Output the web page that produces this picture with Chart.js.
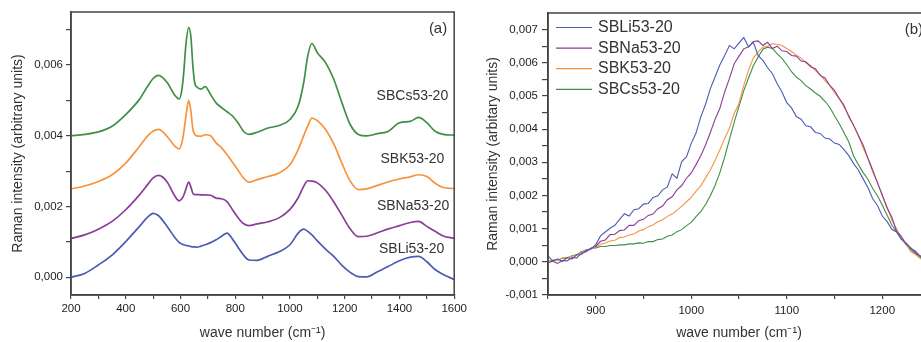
<!DOCTYPE html>
<html>
<head>
<meta charset="utf-8">
<title>Raman spectra</title>
<script src="https://cdn.jsdelivr.net/npm/chart.js@4.4.1/dist/chart.umd.min.js"></script>
<style>
  html, body { margin: 0; padding: 0; background: #fff; overflow: hidden; }
  #wrap { position: relative; width: 921px; height: 342px; overflow: hidden; }
  #chartA { position: absolute; left: 0; top: 0; }
  #chartB { position: absolute; left: 470px; top: 0; }
</style>
</head>
<body>
<div id="wrap">
  <canvas id="chartA" width="470" height="342"></canvas>
  <canvas id="chartB" width="470" height="342"></canvas>
</div>
<script>
// series names (same order in both panels)
const seriesNames = ['SBLi53-20', 'SBNa53-20', 'SBK53-20', 'SBCs53-20'];

// ---- panel (a): stacked full spectra ----
const waveA = [200, 250, 300, 350, 400, 450, 480, 500, 520, 550, 580, 595, 605, 612, 620, 630, 638, 645, 652, 660,
  675, 690, 710, 730, 750, 770, 790, 810, 830, 850, 880, 920, 960, 1000, 1030, 1050, 1065, 1080, 1100, 1130,
  1160, 1190, 1220, 1250, 1280, 1320, 1360, 1400, 1440, 1470, 1500, 1530, 1560, 1600];
const liA = [0.00000, 0.00011, 0.00035, 0.00063, 0.00101, 0.00144, 0.00170, 0.00181, 0.00174, 0.00145, 0.00112, 0.00099, 0.00094, 0.00092, 0.00090, 0.00089, 0.00087, 0.00086, 0.00086, 0.00085,
  0.00088, 0.00092, 0.00098, 0.00106, 0.00116, 0.00125, 0.00108, 0.00085, 0.00063, 0.00049, 0.00048, 0.00060, 0.00072, 0.00092, 0.00125, 0.00136, 0.00130, 0.00120, 0.00103, 0.00080,
  0.00059, 0.00034, 0.00014, 0.00002, 0.00001, 0.00016, 0.00031, 0.00047, 0.00057, 0.00059, 0.00044, 0.00022, 0.00008, -0.00006];
const naA = [0.00110, 0.00120, 0.00136, 0.00158, 0.00191, 0.00233, 0.00262, 0.00281, 0.00288, 0.00271, 0.00229, 0.00216, 0.00222, 0.00232, 0.00250, 0.00269, 0.00255, 0.00238, 0.00234, 0.00234,
  0.00233, 0.00233, 0.00232, 0.00224, 0.00222, 0.00214, 0.00191, 0.00169, 0.00152, 0.00146, 0.00151, 0.00157, 0.00168, 0.00192, 0.00225, 0.00257, 0.00273, 0.00272, 0.00267, 0.00246,
  0.00213, 0.00175, 0.00137, 0.00115, 0.00116, 0.00126, 0.00137, 0.00146, 0.00155, 0.00158, 0.00144, 0.00130, 0.00117, 0.00110];
const kA = [0.00250, 0.00258, 0.00271, 0.00290, 0.00323, 0.00370, 0.00400, 0.00413, 0.00418, 0.00399, 0.00370, 0.00363, 0.00380, 0.00410, 0.00456, 0.00500, 0.00470, 0.00420, 0.00405, 0.00400,
  0.00399, 0.00403, 0.00400, 0.00380, 0.00366, 0.00347, 0.00325, 0.00303, 0.00281, 0.00269, 0.00276, 0.00285, 0.00295, 0.00318, 0.00361, 0.00400, 0.00428, 0.00450, 0.00443, 0.00418,
  0.00377, 0.00322, 0.00272, 0.00248, 0.00250, 0.00260, 0.00270, 0.00278, 0.00284, 0.00290, 0.00285, 0.00266, 0.00254, 0.00251];
const csA = [0.00400, 0.00404, 0.00411, 0.00427, 0.00460, 0.00503, 0.00540, 0.00562, 0.00571, 0.00552, 0.00514, 0.00504, 0.00530, 0.00580, 0.00660, 0.00706, 0.00680, 0.00600, 0.00550, 0.00538,
  0.00532, 0.00539, 0.00517, 0.00493, 0.00480, 0.00468, 0.00456, 0.00437, 0.00413, 0.00404, 0.00410, 0.00422, 0.00429, 0.00446, 0.00484, 0.00550, 0.00626, 0.00661, 0.00635, 0.00607,
  0.00560, 0.00493, 0.00432, 0.00404, 0.00400, 0.00406, 0.00413, 0.00437, 0.00441, 0.00452, 0.00437, 0.00413, 0.00404, 0.00402];
const xTicksA = [200, 300, 400, 500, 600, 700, 800, 900, 1000, 1100, 1200, 1300, 1400, 1500, 1600];
const yTicksA = [0, 0.001, 0.002, 0.003, 0.004, 0.005, 0.006, 0.007];

// ---- panel (b): normalised Si-O band ----
const waveB = [850, 855, 860, 865, 870, 875, 880, 885, 890, 895,
  900, 905, 910, 915, 920, 925, 930, 935, 940, 945,
  950, 955, 960, 965, 970, 975, 980, 985, 990, 995,
  1000, 1005, 1010, 1015, 1020, 1025, 1030, 1035, 1040, 1045,
  1050, 1055, 1060, 1065, 1070, 1075, 1080, 1085, 1090, 1095,
  1100, 1105, 1110, 1115, 1120, 1125, 1130, 1135, 1140, 1145,
  1150, 1155, 1160, 1165, 1170, 1175, 1180, 1185, 1190, 1195,
  1200, 1205, 1210, 1215, 1220, 1225, 1230, 1235, 1240, 1245,
  1250];
const liB = [0.00018, 0.00002, 0.00009, 0.00001, 0.00013, 0.00008, 0.00021, 0.00022, 0.00036, 0.00038,
  0.00052, 0.00078, 0.00090, 0.00101, 0.00110, 0.00128, 0.00145, 0.00138, 0.00157, 0.00160,
  0.00174, 0.00176, 0.00194, 0.00199, 0.00217, 0.00226, 0.00265, 0.00252, 0.00302, 0.00316,
  0.00357, 0.00388, 0.00437, 0.00475, 0.00522, 0.00558, 0.00594, 0.00622, 0.00652, 0.00642,
  0.00660, 0.00676, 0.00648, 0.00662, 0.00622, 0.00607, 0.00585, 0.00567, 0.00537, 0.00512,
  0.00480, 0.00464, 0.00438, 0.00430, 0.00410, 0.00407, 0.00390, 0.00387, 0.00373, 0.00370,
  0.00358, 0.00354, 0.00338, 0.00320, 0.00296, 0.00277, 0.00250, 0.00224, 0.00190, 0.00170,
  0.00138, 0.00122, 0.00098, 0.00090, 0.00068, 0.00057, 0.00040, 0.00032, 0.00016, 0.00012,
  0.00005];
const naB = [-0.00003, 0.00002, -0.00005, 0.00004, 0.00003, 0.00013, 0.00012, 0.00026, 0.00030, 0.00041,
  0.00047, 0.00062, 0.00066, 0.00082, 0.00083, 0.00094, 0.00096, 0.00110, 0.00110, 0.00124,
  0.00128, 0.00140, 0.00144, 0.00160, 0.00168, 0.00187, 0.00196, 0.00217, 0.00230, 0.00252,
  0.00268, 0.00293, 0.00320, 0.00352, 0.00390, 0.00430, 0.00463, 0.00512, 0.00553, 0.00597,
  0.00620, 0.00642, 0.00648, 0.00664, 0.00666, 0.00652, 0.00662, 0.00643, 0.00650, 0.00636,
  0.00634, 0.00622, 0.00620, 0.00605, 0.00603, 0.00588, 0.00582, 0.00562, 0.00554, 0.00532,
  0.00517, 0.00492, 0.00472, 0.00437, 0.00412, 0.00380, 0.00352, 0.00312, 0.00277, 0.00238,
  0.00202, 0.00162, 0.00135, 0.00092, 0.00077, 0.00053, 0.00042, 0.00026, 0.00018, 0.00009,
  0.00006];
const kB = [0.00000, 0.00004, 0.00005, 0.00011, 0.00013, 0.00017, 0.00021, 0.00029, 0.00033, 0.00041,
  0.00044, 0.00053, 0.00057, 0.00063, 0.00065, 0.00073, 0.00075, 0.00081, 0.00084, 0.00093,
  0.00097, 0.00106, 0.00111, 0.00121, 0.00127, 0.00137, 0.00144, 0.00156, 0.00167, 0.00181,
  0.00194, 0.00213, 0.00229, 0.00253, 0.00277, 0.00306, 0.00338, 0.00372, 0.00403, 0.00447,
  0.00478, 0.00532, 0.00578, 0.00614, 0.00633, 0.00647, 0.00650, 0.00657, 0.00656, 0.00652,
  0.00643, 0.00634, 0.00623, 0.00614, 0.00600, 0.00592, 0.00576, 0.00564, 0.00546, 0.00532,
  0.00510, 0.00492, 0.00466, 0.00442, 0.00410, 0.00382, 0.00343, 0.00312, 0.00270, 0.00240,
  0.00198, 0.00167, 0.00126, 0.00100, 0.00070, 0.00052, 0.00030, 0.00022, 0.00009, 0.00006,
  0.00002];
const csB = [0.00000, 0.00005, 0.00005, 0.00011, 0.00011, 0.00018, 0.00021, 0.00031, 0.00034, 0.00041,
  0.00042, 0.00046, 0.00046, 0.00049, 0.00049, 0.00051, 0.00051, 0.00054, 0.00054, 0.00057,
  0.00056, 0.00061, 0.00061, 0.00067, 0.00069, 0.00077, 0.00081, 0.00091, 0.00097, 0.00109,
  0.00119, 0.00136, 0.00151, 0.00173, 0.00199, 0.00231, 0.00269, 0.00316, 0.00369, 0.00421,
  0.00469, 0.00516, 0.00554, 0.00591, 0.00617, 0.00641, 0.00647, 0.00643, 0.00627, 0.00613,
  0.00594, 0.00573, 0.00557, 0.00546, 0.00531, 0.00521, 0.00509, 0.00499, 0.00484, 0.00466,
  0.00440, 0.00416, 0.00389, 0.00361, 0.00319, 0.00293, 0.00269, 0.00249, 0.00221, 0.00199,
  0.00171, 0.00141, 0.00111, 0.00091, 0.00069, 0.00053, 0.00035, 0.00025, 0.00013, 0.00009,
  0.00004];
const xTicksB = [850, 900, 950, 1000, 1050, 1100, 1150, 1200, 1250];
const yTicksB = [-0.001, -0.0005, 0, 0.0005, 0.001, 0.0015, 0.002, 0.0025, 0.003, 0.0035,
  0.004, 0.0045, 0.005, 0.0055, 0.006, 0.0065, 0.007];

const lineColors = ['#4c5cb4', '#8a3d98', '#f7933c', '#3f8f46'];
const FONT = "'Liberation Sans', Arial, sans-serif";
Chart.defaults.font.family = FONT;
Chart.defaults.color = '#1e1e1e';

const toPoints = (xs, ys) => xs.map((x, i) => ({ x: x, y: ys[i] }));
const comma = v => (Math.abs(v) < 1e-9 ? 0 : v).toFixed(3).replace('.', ',');

// draws the closed box round the plot area
const frameBox = {
  id: 'frameBox',
  afterDraw(chart) {
    const { ctx, chartArea: a } = chart;
    ctx.save();
    ctx.strokeStyle = '#444';
    ctx.lineWidth = 1.5;
    ctx.strokeRect(a.left, a.top, a.right - a.left, a.bottom - a.top);
    ctx.restore();
  }
};

// names written beside each curve of panel (a)
const seriesTags = {
  id: 'seriesTags',
  afterDatasetsDraw(chart) {
    const { ctx, chartArea: a, scales: { x, y } } = chart;
    const spots = [[1564, 0.0008], [1582, 0.00202], [1564, 0.00333], [1578, 0.00511]];
    ctx.save();
    ctx.font = '14px ' + FONT;
    ctx.fillStyle = '#333';
    ctx.textAlign = 'right';
    ctx.textBaseline = 'middle';
    chart.data.datasets.forEach((ds, i) => {
      ctx.fillText(ds.label, x.getPixelForValue(spots[i][0]), y.getPixelForValue(spots[i][1]));
    });
    ctx.font = '15px ' + FONT;
    ctx.fillText('(a)', a.right - 7, a.top + 17);
    ctx.restore();
  }
};

// line legend in the top-left corner of panel (b)
const cornerLegend = {
  id: 'cornerLegend',
  afterDatasetsDraw(chart) {
    const { ctx, chartArea: a } = chart;
    ctx.save();
    ctx.font = '16px ' + FONT;
    ctx.textBaseline = 'middle';
    chart.data.datasets.forEach((ds, i) => {
      const yy = a.top + 14.5 + i * 20.6;
      ctx.strokeStyle = ds.borderColor;
      ctx.lineWidth = 1.2;
      ctx.beginPath();
      ctx.moveTo(a.left + 8, yy);
      ctx.lineTo(a.left + 44, yy);
      ctx.stroke();
      ctx.fillStyle = '#333';
      ctx.textAlign = 'left';
      ctx.fillText(ds.label, a.left + 50, yy);
    });
    ctx.font = '15px ' + FONT;
    ctx.textAlign = 'right';
    ctx.fillText('(b)', a.right - 7, a.top + 17);
    ctx.restore();
  }
};

function axisX(min, max, tickList, labelEvery, tickLen, pad) {
  return {
    type: 'linear', min: min, max: max,
    afterBuildTicks: axis => { axis.ticks = tickList.map(v => ({ value: v })); },
    afterFit: axis => { axis.height = 47; },
    ticks: {
      autoSkip: false, maxRotation: 0, minRotation: 0, padding: pad,
      font: { size: 11.5 },
      callback: v => (v % labelEvery === 0 ? String(v) : '')
    },
    grid: { drawOnChartArea: false, drawTicks: true, tickLength: tickLen, color: '#444', lineWidth: 1.2 },
    border: { color: '#444', width: 1.5 },
    title: { display: true, text: 'wave number (cm⁻¹)', font: { size: 14 }, color: '#333', padding: { top: 0, bottom: 0 } }
  };
}

function axisY(min, max, tickList, isMajor, width, tickLen, pad, titleText, titlePad) {
  return {
    type: 'linear', min: min, max: max,
    afterBuildTicks: axis => { axis.ticks = tickList.map(v => ({ value: v })); },
    afterFit: axis => { axis.width = width; },
    ticks: {
      autoSkip: false, padding: pad,
      font: { size: 11.5 },
      callback: v => (isMajor(v) ? comma(v) : '')
    },
    grid: { drawOnChartArea: false, drawTicks: true, tickLength: tickLen, color: '#444', lineWidth: 1.2 },
    border: { color: '#444', width: 1.5 },
    title: { display: true, text: titleText, font: { size: 14 }, color: '#333', padding: { top: titlePad, bottom: 0 } }
  };
}

function makeDatasets(xs, seriesList, width) {
  return seriesList.map((ys, i) => ({
    label: seriesNames[i],
    data: toPoints(xs, ys),
    borderColor: lineColors[i],
    borderWidth: width,
    pointRadius: 0,
    fill: false
  }));
}

const baseOptions = {
  responsive: false,
  animation: false,
  events: [],
  parsing: false,
  plugins: { legend: { display: false }, tooltip: { enabled: false } }
};

new Chart(document.getElementById('chartA'), {
  type: 'line',
  data: { datasets: makeDatasets(waveA, [liA, naA, kA, csA], 1.7) },
  options: Object.assign({}, baseOptions, {
    layout: { padding: { top: 12, right: 12, left: 0, bottom: 0 } },
    elements: { line: { cubicInterpolationMode: 'monotone' } },
    scales: {
      x: axisX(200, 1600, xTicksA, 200, 4, 3),
      y: axisY(-0.0005, 0.0075, yTicksA, v => Math.round(v * 1000) % 2 === 0, 71, 5, 3,
        'Raman intensity (arbitrary units)', 10)
    }
  }),
  plugins: [frameBox, seriesTags]
});

new Chart(document.getElementById('chartB'), {
  type: 'line',
  data: { datasets: makeDatasets(waveB, [liB, naB, kB, csB], 1.1) },
  options: Object.assign({}, baseOptions, {
    layout: { padding: { top: 13, right: 10, left: 0, bottom: 0 } },
    elements: { line: { tension: 0 } },
    scales: {
      x: axisX(850, 1250, xTicksB, 100, 4, 5),
      y: axisY(-0.001, 0.0075, yTicksB, v => Math.round(v * 10000) % 10 === 0, 78, 6, 4,
        'Raman intensity (arbitary units)', 15)
    }
  }),
  plugins: [frameBox, cornerLegend]
});
</script>
</body>
</html>
